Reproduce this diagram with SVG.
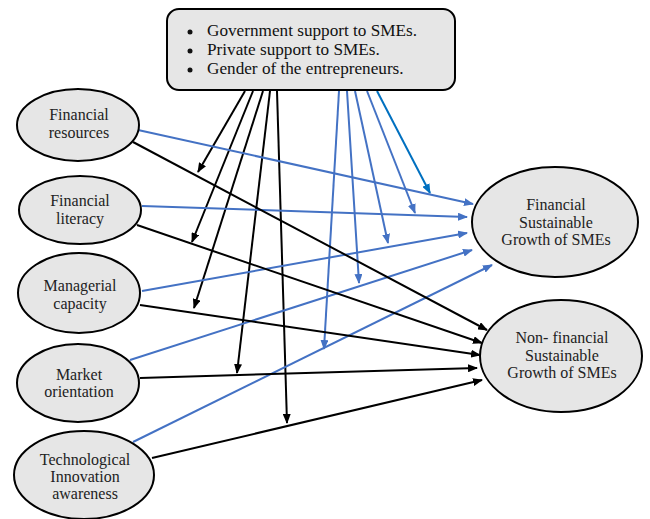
<svg xmlns="http://www.w3.org/2000/svg" width="650" height="519" viewBox="0 0 650 519">
<style>
.node{fill:#e6e6e6;stroke:#000;stroke-width:2}
.t{font-family:'Liberation Serif','Times New Roman',serif;font-size:16px;fill:#222;text-anchor:middle}
.tb{font-family:'Liberation Serif','Times New Roman',serif;font-size:17.2px;fill:#111}
.k{stroke:#000;stroke-width:2;fill:none}
.b{stroke:#4472c4;stroke-width:2;fill:none}
.d{stroke:#0070c0;stroke-width:2;fill:none}
</style>
<defs>
<marker id="ak" viewBox="0 0 10 8" refX="9" refY="4" markerWidth="5" markerHeight="4" orient="auto"><path d="M0,0 L10,4 L0,8 z" fill="#000"/></marker>
<marker id="ab" viewBox="0 0 10 8" refX="9" refY="4" markerWidth="5" markerHeight="4" orient="auto"><path d="M0,0 L10,4 L0,8 z" fill="#4472c4"/></marker>
<marker id="ad" viewBox="0 0 10 8" refX="9" refY="4" markerWidth="5" markerHeight="4" orient="auto"><path d="M0,0 L10,4 L0,8 z" fill="#0070c0"/></marker>
</defs>
<g id="connectors">
<line class="k" x1="245" y1="91" x2="198" y2="172" marker-end="url(#ak)"/>
<line class="k" x1="253" y1="91" x2="192" y2="242" marker-end="url(#ak)"/>
<line class="k" x1="263" y1="91" x2="194" y2="308" marker-end="url(#ak)"/>
<line class="k" x1="270" y1="91" x2="237" y2="373" marker-end="url(#ak)"/>
<line class="k" x1="277" y1="91" x2="287" y2="423" marker-end="url(#ak)"/>
<line class="b" x1="339" y1="91" x2="324" y2="349" marker-end="url(#ab)"/>
<line class="b" x1="347" y1="91" x2="359" y2="283" marker-end="url(#ab)"/>
<line class="b" x1="355" y1="91" x2="388" y2="243" marker-end="url(#ab)"/>
<line class="b" x1="367" y1="91" x2="415" y2="213" marker-end="url(#ab)"/>
<line class="d" x1="377" y1="91" x2="430" y2="193" marker-end="url(#ad)"/>
<line class="b" x1="138" y1="130" x2="473" y2="204" marker-end="url(#ab)"/>
<line class="b" x1="142" y1="206" x2="467" y2="217" marker-end="url(#ab)"/>
<line class="b" x1="142" y1="291" x2="467" y2="233" marker-end="url(#ab)"/>
<line class="b" x1="130" y1="360" x2="472" y2="250" marker-end="url(#ab)"/>
<line class="b" x1="133" y1="442" x2="492" y2="265" marker-end="url(#ab)"/>
<line class="k" x1="133" y1="142" x2="487" y2="330" marker-end="url(#ak)"/>
<line class="k" x1="137" y1="225" x2="482" y2="343" marker-end="url(#ak)"/>
<line class="k" x1="140" y1="305" x2="480" y2="355" marker-end="url(#ak)"/>
<line class="k" x1="140" y1="378" x2="477" y2="368" marker-end="url(#ak)"/>
<line class="k" x1="152" y1="458" x2="482" y2="380" marker-end="url(#ak)"/>
</g>
<g id="moderators">
<rect class="node" x="167" y="9" width="288" height="81" rx="12" ry="12"/>
<circle cx="190" cy="32" r="2.5" fill="#111"/>
<circle cx="190" cy="51" r="2.5" fill="#111"/>
<circle cx="190" cy="70" r="2.5" fill="#111"/>
<text class="tb" x="207" y="36">Government support to SMEs.</text>
<text class="tb" x="207" y="55">Private support to SMEs.</text>
<text class="tb" x="207" y="74">Gender of the entrepreneurs.</text>
</g>
<g id="financial-resources">
<ellipse class="node" cx="78" cy="125" rx="61" ry="36"/>
<text class="t" x="79" y="120">Financial</text>
<text class="t" x="79" y="138">resources</text>
</g>
<g id="financial-literacy">
<ellipse class="node" cx="80" cy="210" rx="61" ry="34"/>
<text class="t" x="80" y="206">Financial</text>
<text class="t" x="80" y="224">literacy</text>
</g>
<g id="managerial-capacity">
<ellipse class="node" cx="79" cy="293" rx="61" ry="40"/>
<text class="t" x="80" y="291">Managerial</text>
<text class="t" x="80" y="309">capacity</text>
</g>
<g id="market-orientation">
<ellipse class="node" cx="78" cy="383" rx="61" ry="39"/>
<text class="t" x="79" y="380">Market</text>
<text class="t" x="79" y="397">orientation</text>
</g>
<g id="technological-innovation">
<ellipse class="node" cx="84" cy="475" rx="70" ry="44"/>
<text class="t" x="85" y="465">Technological</text>
<text class="t" x="85" y="482">Innovation</text>
<text class="t" x="85" y="499">awareness</text>
</g>
<g id="financial-sg">
<ellipse class="node" cx="555" cy="222" rx="83" ry="55"/>
<text class="t" x="556" y="210">Financial</text>
<text class="t" x="556" y="228">Sustainable</text>
<text class="t" x="556" y="245">Growth of SMEs</text>
</g>
<g id="nonfinancial-sg">
<ellipse class="node" cx="561" cy="356" rx="81" ry="56"/>
<text class="t" x="562" y="343">Non- financial</text>
<text class="t" x="562" y="361">Sustainable</text>
<text class="t" x="562" y="378">Growth of SMEs</text>
</g>
</svg>
